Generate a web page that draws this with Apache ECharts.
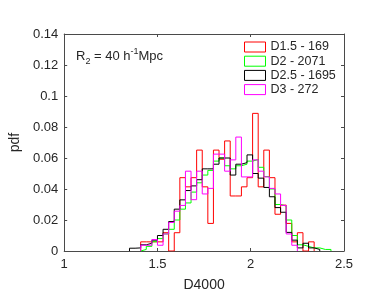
<!DOCTYPE html>
<html>
<head>
<meta charset="utf-8">
<script src="https://cdn.jsdelivr.net/npm/echarts@6/dist/echarts.min.js"></script>
<style>
html,body{margin:0;padding:0;background:#fff;}
#chart{width:382px;height:305px;}
</style>
</head>
<body>
<div id="chart"></div>
<script>
// Histogram bins: all series share bin width 0.03 (edges from each start)
const binWidth = 0.03;

const seriesNames = ['D1.5 - 169', 'D2 - 2071', 'D2.5 - 1695', 'D3 - 272'];

// first bin left edge of each series
const redStart = 1.41;
const greenStart = 1.41;
const blackStart = 1.35;
const magentaStart = 1.41;

// pdf values per bin
const redValues = [0.0059,0.0059,0.0059,0.0059,0.0118,0,0.0118,0.0473,0.0414,0.0473,0.0651,0.0414,0.0178,0.0651,0.0592,0.0710,0.0355,0.0355,0.0414,0.0473,0.0888,0.0414,0.0651,0.0473,0.0237,0.0296,0.0178,0.0059,0.0118,0,0.0059];
const greenValues = [0.001,0.003,0.006,0.008,0.011,0.014,0.020,0.027,0.031,0.038,0.044,0.049,0.052,0.058,0.060,0.055,0.053,0.055,0.056,0.058,0.059,0.054,0.048,0.040,0.030,0.029,0.020,0.010,0.004,0.003,0.002,0.002,0.001,0.001];
const blackValues = [0.0018,0.002,0.004,0.005,0.007,0.010,0.014,0.019,0.027,0.033,0.039,0.042,0.046,0.053,0.053,0.056,0.060,0.060,0.049,0.056,0.057,0.062,0.050,0.047,0.041,0.035,0.028,0.025,0.012,0.007,0.002,0.005,0.002,0.001];
const magentaValues = [0.0037,0.0037,0.0074,0.0037,0.0110,0.0184,0.0257,0.0294,0.0515,0.0331,0.0515,0.0368,0.0404,0.0625,0.0625,0.0515,0.0588,0.0735,0.0478,0.0478,0.0588,0.0515,0.0478,0.0404,0.0368,0.0294,0.0110,0.0037];

const xTicks = [1, 1.5, 2, 2.5];
const yTicks = [0, 0.02, 0.04, 0.06, 0.08, 0.1, 0.12, 0.14];

const colors = ['#ff0000', '#00ff00', '#000000', '#ff00ff'];
const starts = [redStart, greenStart, blackStart, magentaStart];
const valuesList = [redValues, greenValues, blackValues, magentaValues];

function outline(start, values) {
  const pts = [[start, 0]];
  values.forEach((v, i) => {
    const a = +(start + i * binWidth).toFixed(4);
    const b = +(start + (i + 1) * binWidth).toFixed(4);
    pts.push([a, v], [b, v]);
  });
  pts.push([+(start + values.length * binWidth).toFixed(4), 0]);
  return pts;
}

const axisColor = '#4a4a4a';
const textColor = '#262626';
const font = '"Liberation Sans", Arial, Helvetica, sans-serif';

const chart = echarts.init(document.getElementById('chart'), null, {renderer: 'canvas'});

const xBase = {
  type: 'value', min: xTicks[0], max: xTicks[xTicks.length - 1], interval: 0.5,
  axisLine: {show: true, onZero: false, lineStyle: {color: axisColor, width: 1}},
  axisTick: {show: true, inside: true, length: 3, lineStyle: {color: axisColor}},
  splitLine: {show: false}
};
const yBase = {
  type: 'value', min: yTicks[0], max: yTicks[yTicks.length - 1], interval: 0.02,
  axisLine: {show: true, onZero: false, lineStyle: {color: axisColor, width: 1}},
  axisTick: {show: true, inside: true, length: 3, lineStyle: {color: axisColor}},
  splitLine: {show: false}
};

chart.setOption({
  animation: false,
  backgroundColor: '#fff',
  textStyle: {fontFamily: font},
  grid: {left: 55, right: 38, top: 34, bottom: 54, containLabel: false},
  xAxis: [
    Object.assign({}, xBase, {
      position: 'bottom',
      axisLabel: {color: textColor, fontSize: 13, margin: 7, fontFamily: font},
      name: 'D4000', nameLocation: 'middle', nameGap: 27,
      nameTextStyle: {color: textColor, fontSize: 14, fontFamily: font}
    }),
    Object.assign({}, xBase, {position: 'top', axisLabel: {show: false}})
  ],
  yAxis: [
    Object.assign({}, yBase, {
      position: 'left',
      axisLabel: {color: textColor, fontSize: 13, margin: 6, fontFamily: font},
      name: 'pdf', nameLocation: 'middle', nameGap: 40,
      nameTextStyle: {color: textColor, fontSize: 14, fontFamily: font}
    }),
    Object.assign({}, yBase, {position: 'right', axisLabel: {show: false}})
  ],
  legend: {
    orient: 'vertical', left: 244, top: 40.5,
    itemWidth: 21, itemHeight: 10, itemGap: 1.2,
    icon: 'rect',
    padding: 0,
    textStyle: {color: textColor, fontSize: 12.5, lineHeight: 12.5, fontFamily: font},
    data: seriesNames.map((n, i) => ({
      name: n,
      itemStyle: {color: '#ffffff', borderColor: colors[i], borderWidth: 1}
    }))
  },
  graphic: [{
    type: 'text', left: 76, top: 47,
    style: {
      text: '{n|R}{sub|2}{n| = 40 h}{sup|-1}{n|Mpc}',
      rich: {
        n: {fontSize: 13, fontFamily: font, fill: textColor, color: textColor, lineHeight: 19, verticalAlign: 'middle'},
        sub: {fontSize: 9, fontFamily: font, fill: textColor, color: textColor, lineHeight: 19, verticalAlign: 'bottom'},
        sup: {fontSize: 9, fontFamily: font, fill: textColor, color: textColor, lineHeight: 19, verticalAlign: 'top'}
      }
    }
  }],
  series: seriesNames.map((n, i) => ({
    name: n, type: 'line',
    data: outline(starts[i], valuesList[i]),
    showSymbol: false, symbol: 'none',
    color: colors[i],
    lineStyle: {color: colors[i], width: 1},
    z: 2 + i
  }))
});
</script>
</body>
</html>
